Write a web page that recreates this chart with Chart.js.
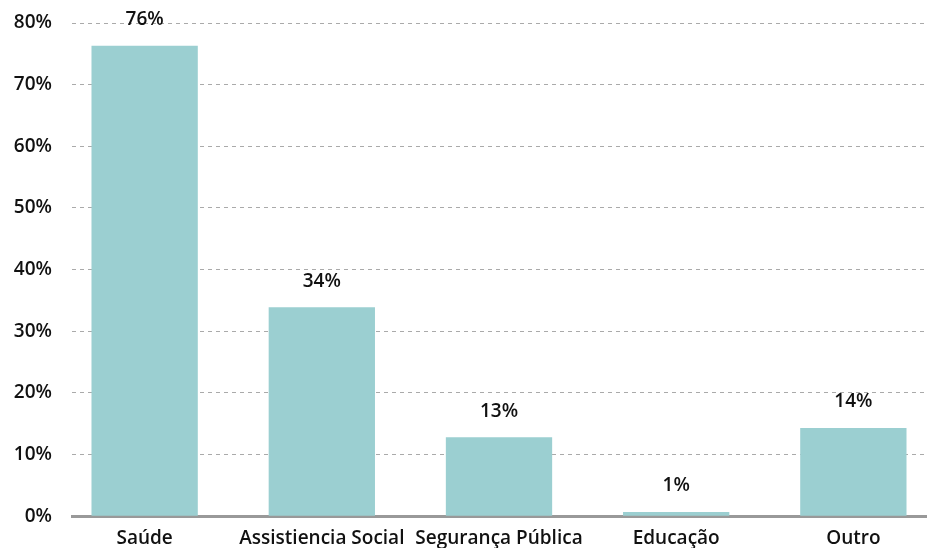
<!DOCTYPE html>
<html>
<head>
<meta charset="utf-8">
<script src="https://cdn.jsdelivr.net/npm/chart.js@4.4.0/dist/chart.umd.min.js"></script>
<style>
  html, body { margin: 0; padding: 0; background: #fff; }
  #wrap { width: 933px; height: 548px; }
</style>
</head>
<body>
<div id="wrap"><canvas id="grafico"></canvas></div>
<script>
const categorias = ['Saúde', 'Assistiencia Social', 'Segurança Pública', 'Educação', 'Outro'];
const valores = [76.3, 33.9, 12.8, 0.7, 14.3];
const rotulos = ['76%', '34%', '13%', '1%', '14%'];
const ticksY = [0, 10, 20, 30, 40, 50, 60, 70, 80];

const fonte = { family: 'Open Sans', weight: '600', size: 19 };

// rótulos acima das barras
const rotuloPlugin = {
    id: 'rotuloPlugin',
    afterDatasetsDraw(chart) {
        const ctx = chart.ctx;
        const meta = chart.getDatasetMeta(0);
        ctx.save();
        ctx.font = '600 19px "Open Sans"';
        ctx.fillStyle = '#111';
        ctx.textAlign = 'center';
        ctx.textBaseline = 'middle';
        meta.data.forEach((bar, i) => {
            ctx.fillText(rotulos[i], bar.x, bar.y - 26);
        });
        ctx.restore();
    }
};

const ctx = document.getElementById('grafico').getContext('2d');
new Chart(ctx, {
    type: 'bar',
    data: {
        datasets: [{
            data: valores.map((v, i) => ({ x: i, y: v })),
            backgroundColor: '#9bcfd1',
            borderWidth: 0,
            barPercentage: 1.0,
            categoryPercentage: 0.6
        }]
    },
    options: {
        responsive: true,
        maintainAspectRatio: false,
        animation: false,
        layout: { padding: { top: 23, right: 7, left: 10, bottom: -13 } },
        plugins: {
            legend: { display: false },
            tooltip: { enabled: false }
        },
        scales: {
            x: {
                type: 'linear',
                offset: false,
                min: -0.41,
                max: 4.41,
                grid: { display: false, drawTicks: false, offset: false },
                border: { display: true, color: '#999', width: 3 },
                ticks: {
                    stepSize: 1,
                    includeBounds: false,
                    autoSkip: false,
                    maxRotation: 0,
                    padding: 11,
                    color: '#111',
                    font: fonte,
                    callback: v => categorias[v] || ''
                }
            },
            y: {
                min: 0,
                max: 80,
                afterBuildTicks: axis => { axis.ticks = ticksY.map(v => ({ value: v })); },
                afterFit: axis => {
                    axis.width = 62;
                    axis.paddingTop = 0;
                    axis.paddingBottom = 0;
                },
                grid: { color: '#aaa', lineWidth: 1, drawTicks: false },
                border: { display: false, dash: [4, 4] },
                ticks: {
                    padding: 20,
                    color: '#111',
                    font: fonte,
                    callback: v => v + '%'
                }
            }
        }
    },
    plugins: [rotuloPlugin]
});
</script>
</body>
</html>
